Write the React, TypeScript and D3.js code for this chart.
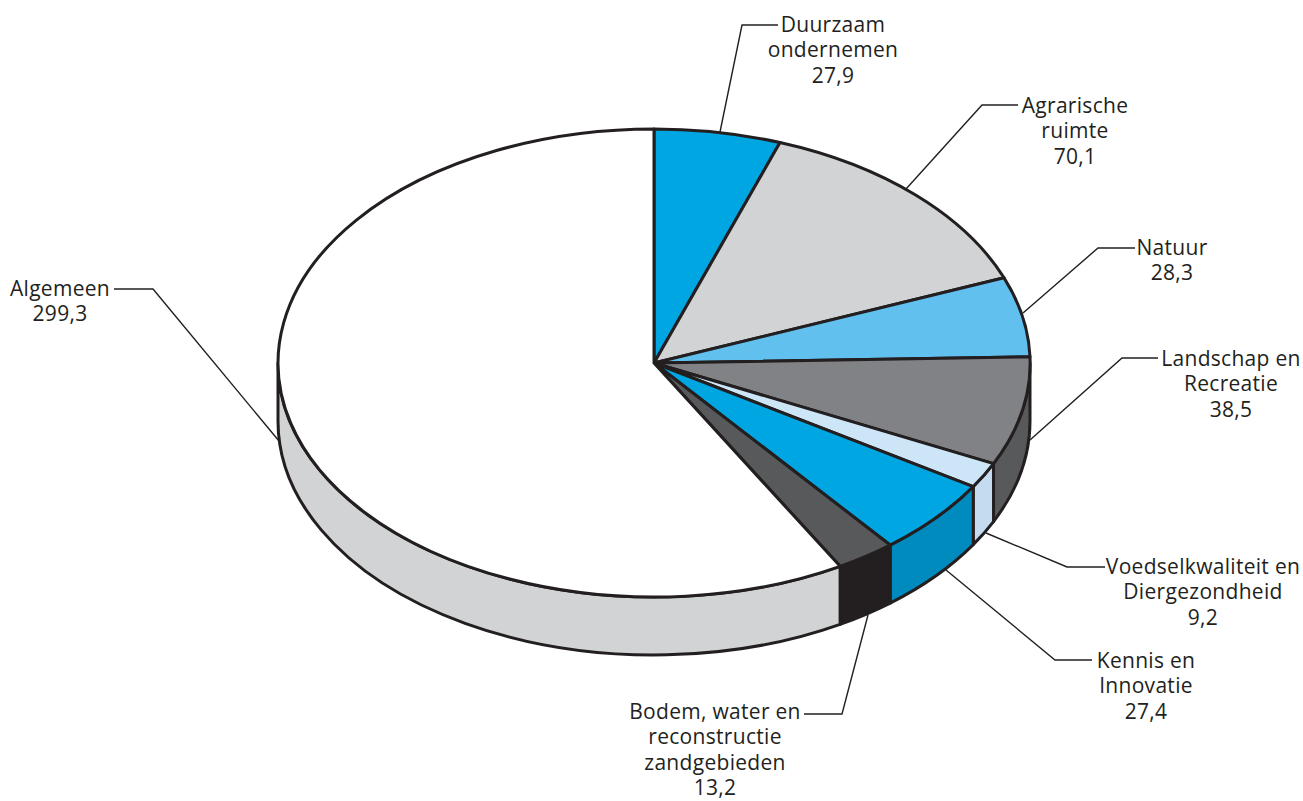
import React from "react";
import * as d3 from "d3";

const categories = [
  "Duurzaam ondernemen",
  "Agrarische ruimte",
  "Natuur",
  "Landschap en Recreatie",
  "Voedselkwaliteit en Diergezondheid",
  "Kennis en Innovatie",
  "Bodem, water en reconstructie zandgebieden",
  "Algemeen",
];
const values = [27.9, 70.1, 28.3, 38.5, 9.2, 27.4, 13.2, 299.3];
const valueLabels = ["27,9", "70,1", "28,3", "38,5", "9,2", "27,4", "13,2", "299,3"];
const labelLines = [
  ["Duurzaam", "ondernemen"],
  ["Agrarische", "ruimte"],
  ["Natuur"],
  ["Landschap en", "Recreatie"],
  ["Voedselkwaliteit en", "Diergezondheid"],
  ["Kennis en", "Innovatie"],
  ["Bodem, water en", "reconstructie", "zandgebieden"],
  ["Algemeen"],
];
const topColors = ["#00a6e2", "#d1d3d4", "#62c0ee", "#808285", "#cce6f8", "#00a6e2", "#58595b", "#ffffff"];
const sideColors = ["#00a6e2", "#d1d3d4", "#62c0ee", "#58595b", "#c5dcf0", "#008bbf", "#231f20", "#d1d3d4"];

// layout, separate from the data
const CX = 654, CY = 363, RX = 376, RY = 234, DEPTH = 58;
const INK = "#231f20";
const labelX = [833, 1075, 1172, 1231, 1203, 1146, 715, 60];
const labelY = [32, 113, 255, 366, 574, 668, 719, 296];
const LINE_H = 25.4;
const leaders: [number, number][][] = [
  [[720, 132], [742, 25], [778, 25]],
  [[906, 189], [982, 105], [1018, 105]],
  [[1023, 313], [1098, 248], [1135, 248]],
  [[1030, 440], [1122, 358], [1158, 358]],
  [[986, 533], [1067, 567], [1105, 567]],
  [[946, 570], [1055, 660], [1092, 660]],
  [[868, 615], [842, 714], [804, 714]],
  [[279, 441], [153, 289], [114, 289]],
];

const pt = (a: number, dy = 0): [number, number] => [CX + RX * Math.sin(a), CY - RY * Math.cos(a) + dy];

function sidePath(a0: number, a1: number) {
  const s = Math.max(a0, Math.PI / 2);
  const e = Math.min(a1, (3 * Math.PI) / 2);
  if (e <= s) return null;
  const [x0, y0] = pt(s);
  const [x1, y1] = pt(e);
  const [x2, y2] = pt(e, DEPTH);
  const [x3, y3] = pt(s, DEPTH);
  const large = e - s > Math.PI ? 1 : 0;
  return `M${x0},${y0}A${RX},${RY} 0 ${large} 1 ${x1},${y1}L${x2},${y2}A${RX},${RY} 0 ${large} 0 ${x3},${y3}Z`;
}

export default function App() {
  const arcs = d3
    .pie<number>()
    .sort(null)
    .startAngle(0)
    .endAngle(2 * Math.PI)(values);
  const unitArc = d3.arc<d3.PieArcDatum<number>>().innerRadius(0).outerRadius(1);
  const leaderLine = d3.line();

  return (
    <svg
      width={1303}
      height={801}
      viewBox="0 0 1303 801"
      style={{ position: "fixed", left: 0, top: 0, background: "#fff" }}
      fontFamily="'Open Sans', sans-serif"
    >
      <g fill="none" stroke={INK} strokeWidth={1.4}>
        {leaders.map((p, i) => (
          <path key={i} d={leaderLine(p) as string} />
        ))}
      </g>
      <g stroke={INK} strokeWidth={3} strokeLinejoin="round">
        {arcs.map((d, i) => {
          const p = sidePath(d.startAngle, d.endAngle);
          return p ? <path key={i} d={p} fill={sideColors[i]} /> : null;
        })}
      </g>
      <g transform={`translate(${CX},${CY}) scale(${RX},${RY})`} stroke={INK} strokeLinejoin="round">
        {arcs.map((d, i) => (
          <path
            key={i}
            d={unitArc(d) as string}
            fill={topColors[i]}
            strokeWidth={3}
            vectorEffect="non-scaling-stroke"
          />
        ))}
      </g>
      <g fontSize={21} fill={INK} textAnchor="middle" letterSpacing={0.3}>
        {categories.map((c, i) => (
          <text key={c} x={labelX[i]} y={labelY[i]}>
            {[...labelLines[i], valueLabels[i]].map((t, j) => (
              <tspan key={j} x={labelX[i]} y={labelY[i] + j * LINE_H}>
                {t}
              </tspan>
            ))}
          </text>
        ))}
      </g>
    </svg>
  );
}
